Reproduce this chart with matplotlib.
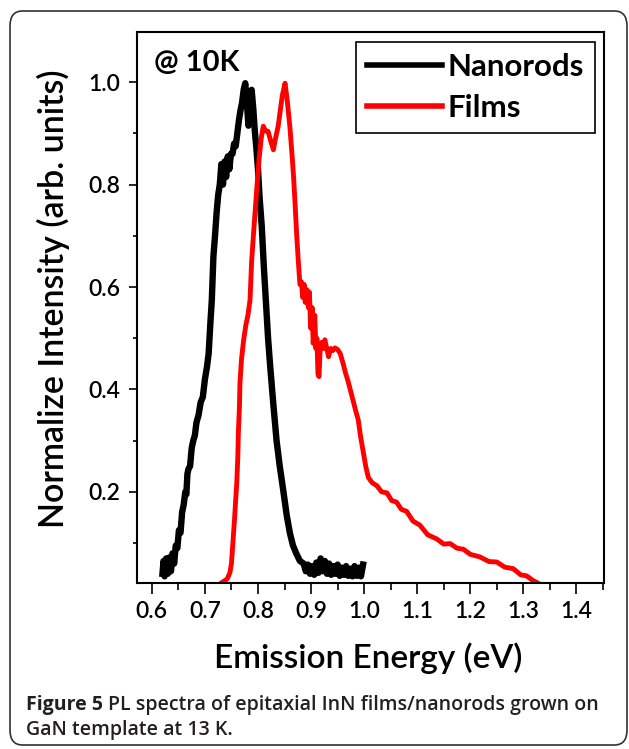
import matplotlib
matplotlib.use("Agg")
import matplotlib.pyplot as plt
from matplotlib.patches import FancyBboxPatch
from matplotlib.ticker import MultipleLocator

# PL spektra
nano_x = [0.620, 0.622, 0.624, 0.627, 0.630, 0.633, 0.636, 0.639, 0.642, 0.645,
          0.648, 0.651, 0.654, 0.657, 0.660, 0.663, 0.665, 0.667, 0.669, 0.672,
          0.675, 0.678, 0.681, 0.684, 0.688, 0.692, 0.696, 0.700, 0.704, 0.707,
          0.710, 0.713, 0.716, 0.719, 0.722, 0.725, 0.728, 0.731, 0.734, 0.737,
          0.740, 0.743, 0.746, 0.749, 0.752, 0.755, 0.758, 0.761, 0.764, 0.767,
          0.770, 0.773, 0.776, 0.779, 0.782, 0.785, 0.788, 0.791, 0.794, 0.797,
          0.800, 0.803, 0.807, 0.811, 0.815, 0.819, 0.823, 0.829, 0.835, 0.841,
          0.848, 0.854, 0.860, 0.866, 0.872, 0.879, 0.886, 0.890, 0.894, 0.898,
          0.902, 0.906, 0.910, 0.914, 0.918, 0.922, 0.926, 0.930, 0.934, 0.938,
          0.942, 0.946, 0.950, 0.954, 0.958, 0.962, 0.966, 0.970, 0.974, 0.978,
          0.982, 0.986, 0.990, 0.994, 0.998]
nano_y = [0.040, 0.065, 0.035, 0.070, 0.040, 0.072, 0.045, 0.080, 0.060, 0.095,
          0.090, 0.125, 0.120, 0.160, 0.175, 0.200, 0.195, 0.235, 0.245, 0.250,
          0.285, 0.300, 0.310, 0.335, 0.350, 0.375, 0.385, 0.420, 0.445, 0.470,
          0.525, 0.575, 0.660, 0.700, 0.745, 0.780, 0.800, 0.840, 0.800, 0.845,
          0.815, 0.855, 0.830, 0.860, 0.860, 0.880, 0.875, 0.900, 0.925, 0.945,
          0.960, 0.985, 0.998, 0.960, 0.915, 0.960, 0.985, 0.950, 0.905, 0.870,
          0.830, 0.775, 0.720, 0.640, 0.570, 0.500, 0.445, 0.370, 0.300, 0.250,
          0.200, 0.155, 0.120, 0.095, 0.080, 0.065, 0.060, 0.045, 0.058, 0.040,
          0.055, 0.038, 0.062, 0.042, 0.070, 0.045, 0.065, 0.040, 0.060, 0.038,
          0.055, 0.040, 0.058, 0.036, 0.052, 0.038, 0.055, 0.036, 0.050, 0.035,
          0.055, 0.036, 0.052, 0.035, 0.058]

film_x = [0.725, 0.735, 0.742, 0.747, 0.750, 0.752, 0.754, 0.756, 0.758, 0.760,
          0.762, 0.763, 0.765, 0.766, 0.769, 0.773, 0.777, 0.781, 0.785, 0.788,
          0.793, 0.798, 0.802, 0.806, 0.810, 0.814, 0.819, 0.824, 0.829, 0.833,
          0.838, 0.842, 0.846, 0.851, 0.855, 0.860, 0.864, 0.867, 0.870, 0.873,
          0.876, 0.879, 0.882, 0.884, 0.887, 0.889, 0.892, 0.895, 0.897, 0.899,
          0.902, 0.904, 0.907, 0.909, 0.911, 0.913, 0.915, 0.917, 0.920, 0.923,
          0.926, 0.930, 0.933, 0.937, 0.941, 0.945, 0.950, 0.955, 0.960, 0.965,
          0.970, 0.975, 0.980, 0.985, 0.989, 0.993, 0.998, 1.003, 1.008, 1.015,
          1.024, 1.033, 1.043, 1.052, 1.061, 1.070, 1.080, 1.092, 1.105, 1.120,
          1.137, 1.150, 1.162, 1.175, 1.187, 1.200, 1.218, 1.235, 1.250, 1.265,
          1.281, 1.295, 1.306, 1.318, 1.331]
film_y = [0.018, 0.025, 0.030, 0.042, 0.060, 0.090, 0.120, 0.150, 0.185, 0.217,
          0.270, 0.315, 0.365, 0.412, 0.460, 0.497, 0.525, 0.545, 0.575, 0.650,
          0.725, 0.796, 0.850, 0.890, 0.914, 0.905, 0.904, 0.885, 0.868, 0.890,
          0.914, 0.945, 0.975, 0.998, 0.965, 0.914, 0.860, 0.816, 0.760, 0.700,
          0.650, 0.605, 0.610, 0.580, 0.605, 0.570, 0.595, 0.560, 0.590, 0.520,
          0.560, 0.490, 0.545, 0.480, 0.500, 0.430, 0.425, 0.475, 0.492, 0.480,
          0.497, 0.478, 0.464, 0.480, 0.476, 0.481, 0.478, 0.470, 0.452, 0.432,
          0.415, 0.395, 0.375, 0.355, 0.340, 0.310, 0.280, 0.250, 0.228, 0.218,
          0.212, 0.200, 0.198, 0.183, 0.180, 0.166, 0.162, 0.143, 0.135, 0.116,
          0.108, 0.098, 0.099, 0.090, 0.088, 0.078, 0.073, 0.064, 0.063, 0.053,
          0.050, 0.038, 0.036, 0.027, 0.020]

W, H = 629, 749
plt.rcParams['font.family'] = ['Lato', 'DejaVu Sans']
plt.rcParams['font.weight'] = 'semibold'

fig = plt.figure(figsize=(W / 100, H / 100), dpi=100)

# ramka wokol calego rysunku
box = FancyBboxPatch((10 / W, 1 - 745 / H), 617 / W, 734 / H,
                     boxstyle="round,pad=0,rounding_size=0.02",
                     transform=fig.transFigure, fill=False,
                     edgecolor='#333333', linewidth=1.2)
fig.patches.append(box)

ax = fig.add_axes([137 / W, 1 - 582.5 / H, 467 / W, 550.5 / H])
ax.plot(nano_x, nano_y, color='black', lw=4.6, label='Nanorods', solid_joinstyle='round')
ax.plot(film_x, film_y, color='#ff0000', lw=3.5, label='Films', solid_joinstyle='round')

ax.set_xlim(0.572, 1.452)
ax.set_ylim(0.023, 1.098)
ax.set_xticks([0.6, 0.7, 0.8, 0.9, 1.0, 1.1, 1.2, 1.3, 1.4])
ax.set_yticks([0.2, 0.4, 0.6, 0.8, 1.0])
ax.xaxis.set_minor_locator(MultipleLocator(0.05))
ax.yaxis.set_minor_locator(MultipleLocator(0.1))
ax.tick_params(axis='both', which='both', direction='out', width=1.2,
               labelsize=16.5, top=False, right=False)
ax.tick_params(axis='x', which='major', length=8, pad=5)
ax.tick_params(axis='x', which='minor', length=5)
ax.tick_params(axis='y', which='major', length=6, pad=6)
ax.tick_params(axis='y', which='minor', length=3)
for s in ax.spines.values():
    s.set_linewidth(1.5)

ax.text(154 / W, 1 - 62.5 / H, '@ 10K', transform=fig.transFigure,
        fontsize=21, fontweight='bold', ha='left', va='center')

leg = ax.legend(loc='upper right', bbox_to_anchor=(0.981, 0.982), borderaxespad=0,
                handlelength=2.4, handletextpad=0.2, labelspacing=0.42,
                borderpad=0.35, fancybox=False, edgecolor='black', framealpha=1,
                prop={'weight': 'bold', 'size': 22.5})
leg.get_frame().set_linewidth(1.2)
for ln in leg.get_lines():
    ln.set_linewidth(4)

fig.text(368 / W, 1 - 658 / H, 'Emission Energy (eV)', fontsize=24,
         ha='center', va='center')
fig.text(53 / W, 1 - 299 / H, 'Normalize Intensity (arb. units)', fontsize=24.5,
         ha='center', va='center', rotation=90)

# podpis
cap = dict(fontsize=14, family=['Open Sans', 'DejaVu Sans'], ha='left',
           va='center', color='#231f20')
t1 = fig.text(26 / W, 1 - 705 / H, 'Figure 5', fontweight='bold', **cap)
fig.canvas.draw()
bb = t1.get_window_extent()
fig.text((bb.x1 + 5) / W, 1 - 705 / H, 'PL spectra of epitaxial InN films/nanorods grown on',
         fontweight='semibold', **cap)
fig.text(26 / W, 1 - 730 / H, 'GaN template at 13 K.', fontweight='semibold', **cap)

fig.savefig('out.png', dpi=100)
